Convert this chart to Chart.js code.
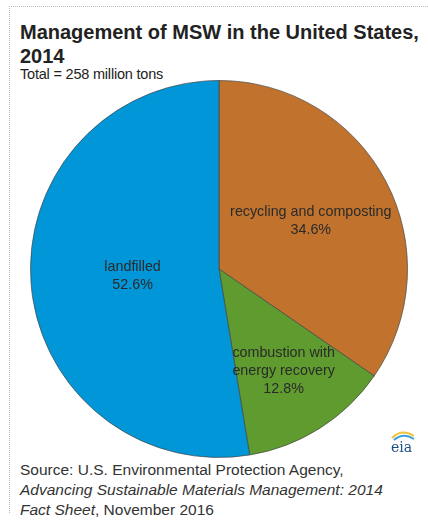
<!DOCTYPE html>
<html>
<head>
<meta charset="utf-8">
<script src="https://cdn.jsdelivr.net/npm/chart.js@4/dist/chart.umd.min.js"></script>
<style>
body{margin:0;width:428px;height:523px;background:#fff;font-family:"Liberation Sans",Arial,sans-serif;position:relative;overflow:hidden}
#frame{position:absolute;left:9px;top:6px;width:430px;height:506px;border-top:1px dotted #bbb;border-left:1px dotted #bbb}
#title{position:absolute;left:20px;top:20px;font-size:20px;font-weight:bold;color:#222;line-height:24px;width:408px}
#sub{position:absolute;left:20px;top:66px;font-size:14.5px;color:#222;letter-spacing:-0.2px}
#box{position:absolute;left:30px;top:80px;width:378px;height:378px}
#src{position:absolute;left:20px;top:460px;font-size:15.5px;color:#333;line-height:20px}
#eia{position:absolute;left:386px;top:426px;width:32px;height:28px}
</style>
</head>
<body>
<div id="frame"></div>
<div id="title">Management of MSW in the United States, 2014</div>
<div id="sub">Total = 258 million tons</div>
<div id="box"><canvas id="pie"></canvas></div>
<svg id="eia" viewBox="0 0 32 28">
<path d="M6 12 Q16 2 28 10" stroke="#f2c23a" stroke-width="2" fill="none"/>
<path d="M8 14 Q17 6 28 13" stroke="#3ba0d8" stroke-width="2" fill="none"/>
<text x="5" y="26" font-family="DejaVu Serif,serif" font-size="14" fill="#1c4f8a">eia</text>
</svg>
<div id="src">Source: U.S. Environmental Protection Agency,<br><i>Advancing Sustainable Materials Management: 2014</i><br><i>Fact Sheet</i>, November 2016</div>
<script>
const categories=["recycling and composting","combustion with energy recovery","landfilled"];
const shares=[34.6,12.8,52.6];
const colors=["#c1732e","#5f9b2f","#0096d7"];
const labelLines=[["recycling and composting"],["combustion with","energy recovery"],["landfilled"]];
const labelR=[0.55,0.64,0.46];

const sliceLabels={
    id:"sliceLabels",
    afterDatasetsDraw(chart){
        const ctx=chart.ctx;
        const meta=chart.getDatasetMeta(0);
        ctx.save();
        ctx.font="14.3px 'Liberation Sans', Arial, sans-serif";
        ctx.fillStyle="#2a2a2a";
        ctx.textAlign="center";
        ctx.textBaseline="middle";
        meta.data.forEach((arc,i)=>{
            const p=arc.getProps(["x","y","startAngle","endAngle","outerRadius"],true);
            const a=(p.startAngle+p.endAngle)/2;
            const r=p.outerRadius*labelR[i];
            const cx=p.x+Math.cos(a)*r, cy=p.y+Math.sin(a)*r;
            const lines=labelLines[i].concat([shares[i].toFixed(1)+"%"]);
            const h=18;
            lines.forEach((t,j)=>{
                ctx.fillText(t,cx,cy+(j-(lines.length-1)/2)*h);
            });
        });
        ctx.restore();
    }
};

new Chart(document.getElementById("pie"),{
    type:"pie",
    data:{labels:categories,datasets:[{data:shares,backgroundColor:colors,borderColor:"rgba(70,70,70,0.7)",borderWidth:1}]},
    options:{
        animation:false,
        responsive:true,
        maintainAspectRatio:false,
        layout:{padding:0},
        plugins:{legend:{display:false},tooltip:{enabled:false}}
    },
    plugins:[sliceLabels]
});
</script>
</body>
</html>
